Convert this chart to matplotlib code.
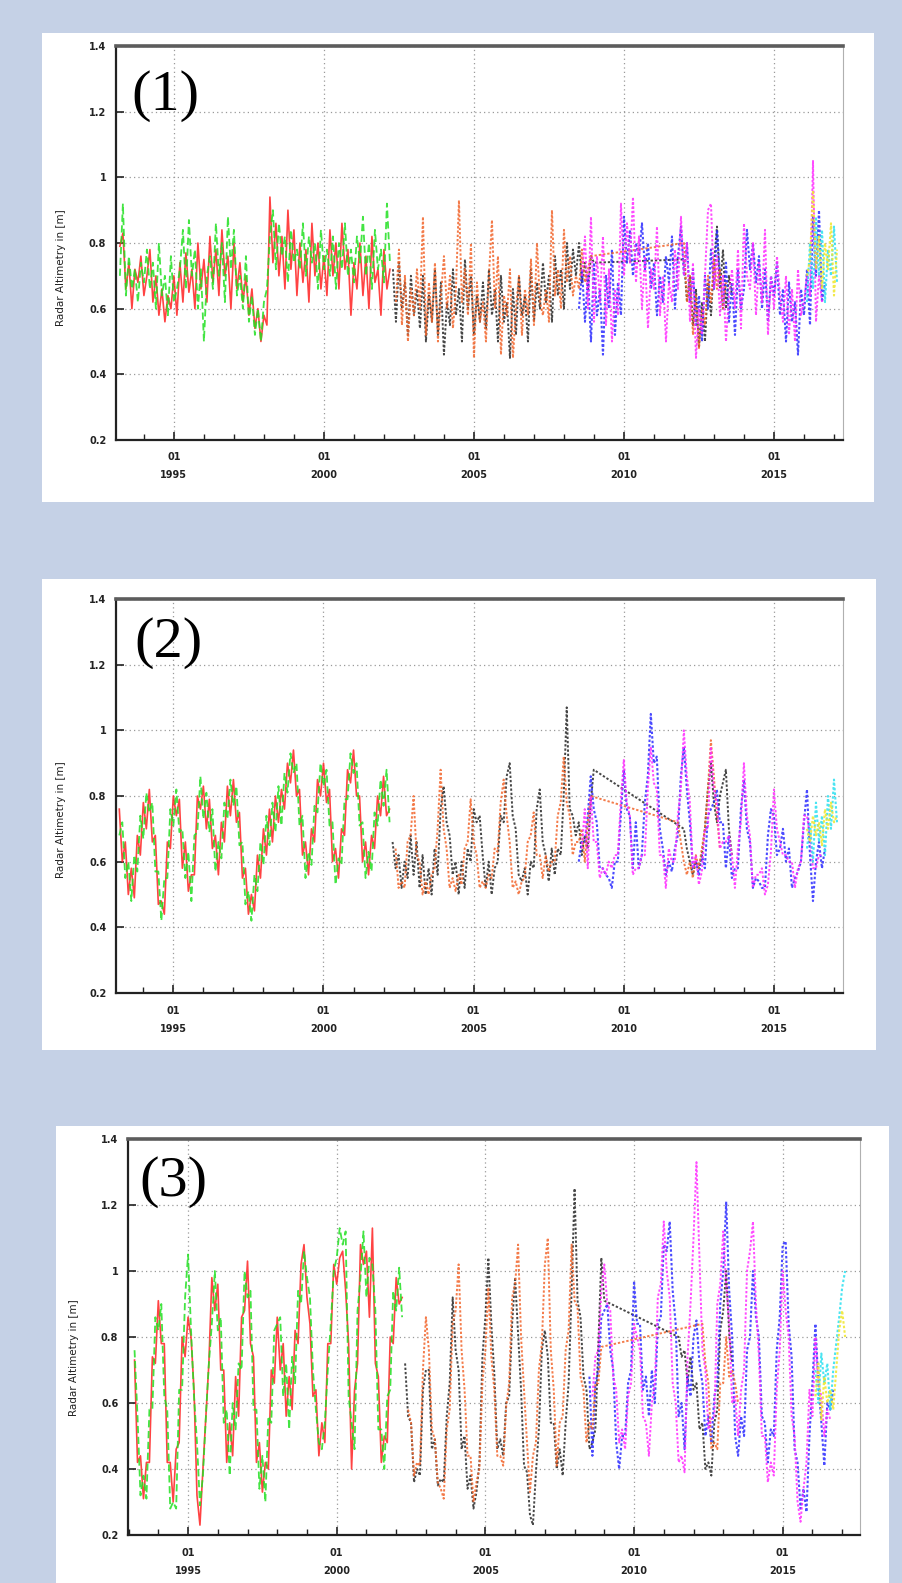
import numpy as np
import matplotlib
matplotlib.use("Agg")
import matplotlib.pyplot as plt
from matplotlib.patches import Rectangle
from matplotlib.ticker import FixedLocator, MultipleLocator

# ---------------------------------------------------------------------------
# Radar altimetry water-level series (metres), sampled every 0.1 year.
# Each mission series: start year + list of values.
# ---------------------------------------------------------------------------
STEP = 0.1

year_ticks = [1995, 2000, 2005, 2010, 2015]
year_labels = ["01\n1995", "01\n2000", "01\n2005", "01\n2010", "01\n2015"]
level_ticks = [0.2, 0.4, 0.6, 0.8, 1.0, 1.2, 1.4]
level_labels = ["0.2", "0.4", "0.6", "0.8", "1", "1.2", "1.4"]
panel_names = ["(1)", "(2)", "(3)"]

# series start years
red_start = 1993.2
green_start = 1993.2
black_a_start = 2002.3
orange_a_start = 2002.4
blue_start = 2008.5
magenta_start = 2008.6
cyan_start = 2016.1
yellow_start = 2016.1
black_b_starts = [2012.0, 2012.0, 2011.5]
orange_b_starts = [2012.0, 2011.8, 2012.3]

# ----------------------------- station 1 -----------------------------------
p1_red = [
    0.79, 0.83, 0.66, 0.74, 0.60, 0.72, 0.68, 0.76, 0.64, 0.70,
    0.78, 0.62, 0.70, 0.58, 0.66, 0.56, 0.64, 0.60, 0.70, 0.58,
    0.74, 0.62, 0.77, 0.65, 0.72, 0.60, 0.80, 0.66, 0.75, 0.62,
    0.82, 0.68, 0.78, 0.64, 0.84, 0.70, 0.76, 0.60, 0.80, 0.66,
    0.74, 0.62, 0.70, 0.58, 0.66, 0.54, 0.60, 0.50, 0.58, 0.55,
    0.94, 0.74, 0.86, 0.70, 0.82, 0.66, 0.90, 0.72, 0.84, 0.64,
    0.80, 0.68, 0.78, 0.62, 0.86, 0.70, 0.80, 0.66, 0.76, 0.64,
    0.84, 0.70, 0.80, 0.66, 0.86, 0.72, 0.78, 0.58, 0.74, 0.66,
    0.80, 0.64, 0.76, 0.60, 0.82, 0.68, 0.72, 0.58, 0.78, 0.66,
    0.72]
p1_green = [
    0.70, 0.92, 0.64, 0.76, 0.66, 0.72, 0.62, 0.74, 0.68, 0.78,
    0.66, 0.74, 0.60, 0.80, 0.64, 0.70, 0.58, 0.76, 0.62, 0.66,
    0.72, 0.84, 0.66, 0.87, 0.70, 0.78, 0.60, 0.72, 0.50, 0.70,
    0.76, 0.66, 0.86, 0.70, 0.80, 0.62, 0.88, 0.72, 0.84, 0.64,
    0.70, 0.60, 0.76, 0.56, 0.64, 0.52, 0.60, 0.50, 0.62, 0.66,
    0.82, 0.90, 0.72, 0.86, 0.76, 0.82, 0.68, 0.84, 0.74, 0.78,
    0.72, 0.86, 0.70, 0.82, 0.74, 0.80, 0.66, 0.84, 0.72, 0.78,
    0.70, 0.82, 0.66, 0.80, 0.72, 0.86, 0.70, 0.78, 0.68, 0.82,
    0.74, 0.88, 0.70, 0.80, 0.66, 0.84, 0.72, 0.78, 0.68, 0.92,
    0.74]
p1_black_a = [
    0.72, 0.56, 0.74, 0.60, 0.68, 0.52, 0.70, 0.58, 0.66, 0.54,
    0.70, 0.50, 0.64, 0.56, 0.72, 0.52, 0.68, 0.46, 0.62, 0.55,
    0.72, 0.58, 0.66, 0.50, 0.75, 0.60, 0.70, 0.52, 0.64, 0.56,
    0.68, 0.54, 0.72, 0.58, 0.66, 0.50, 0.70, 0.56, 0.62, 0.45,
    0.66, 0.52, 0.70, 0.58, 0.64, 0.50, 0.72, 0.56, 0.68, 0.60,
    0.74, 0.62, 0.70, 0.56, 0.76, 0.64, 0.72, 0.60, 0.80, 0.66,
    0.78, 0.70, 0.80, 0.68, 0.74, 0.66, 0.76, 0.74]
p1_black_b = [0.75, 0.62, 0.70, 0.55, 0.66, 0.48, 0.62, 0.50, 0.68, 0.58,
              0.74, 0.85, 0.66, 0.78, 0.60, 0.70, 0.64]
p1_orange_a = [
    0.62, 0.78, 0.55, 0.70, 0.50, 0.66, 0.58, 0.72, 0.60, 0.88,
    0.52, 0.68, 0.56, 0.74, 0.50, 0.64, 0.76, 0.60, 0.70, 0.54,
    0.66, 0.93, 0.62, 0.72, 0.58, 0.80, 0.45, 0.68, 0.56, 0.62,
    0.50, 0.70, 0.87, 0.60, 0.76, 0.46, 0.64, 0.58, 0.72, 0.45,
    0.60, 0.70, 0.52, 0.66, 0.58, 0.75, 0.55, 0.80, 0.62, 0.58,
    0.66, 0.56, 0.90, 0.64, 0.72, 0.60, 0.84, 0.68, 0.76, 0.64,
    0.70, 0.66, 0.78, 0.68, 0.72, 0.76]
p1_orange_b = [0.80, 0.62, 0.70, 0.52, 0.64, 0.48, 0.60, 0.55, 0.70, 0.62,
               0.75, 0.66, 0.72, 0.60, 0.68]
p1_blue = [
    0.60, 0.72, 0.56, 0.70, 0.50, 0.74, 0.58, 0.66, 0.46, 0.70,
    0.60, 0.78, 0.52, 0.68, 0.58, 0.88, 0.74, 0.84, 0.70, 0.80,
    0.76, 0.86, 0.72, 0.80, 0.66, 0.74, 0.58, 0.70, 0.62, 0.76,
    0.68, 0.82, 0.60, 0.76, 0.85, 0.70, 0.80, 0.62, 0.72, 0.55,
    0.64, 0.50, 0.70, 0.60, 0.78, 0.66, 0.84, 0.70, 0.60, 0.74,
    0.56, 0.68, 0.52, 0.72, 0.60, 0.66, 0.84, 0.72, 0.80, 0.68,
    0.76, 0.60, 0.72, 0.56, 0.70, 0.64, 0.74, 0.58, 0.66, 0.50,
    0.68, 0.56, 0.62, 0.46, 0.66, 0.58, 0.72, 0.55, 0.88, 0.70,
    0.90, 0.62, 0.68]
p1_magenta = [
    0.70, 0.82, 0.60, 0.88, 0.56, 0.76, 0.62, 0.82, 0.55, 0.72,
    0.50, 0.66, 0.58, 0.92, 0.70, 0.86, 0.74, 0.94, 0.68, 0.82,
    0.60, 0.76, 0.54, 0.72, 0.66, 0.85, 0.58, 0.70, 0.50, 0.68,
    0.62, 0.78, 0.66, 0.88, 0.70, 0.80, 0.56, 0.74, 0.45, 0.60,
    0.52, 0.70, 0.90, 0.92, 0.66, 0.76, 0.58, 0.70, 0.50, 0.64,
    0.72, 0.60, 0.78, 0.54, 0.86, 0.70, 0.66, 0.80, 0.58, 0.74,
    0.62, 0.84, 0.52, 0.70, 0.60, 0.76, 0.64, 0.56, 0.70, 0.52,
    0.66, 0.50, 0.72, 0.58, 0.62, 0.70, 0.64, 1.05, 0.56, 0.70,
    0.62]
p1_cyan = [0.62, 0.80, 0.66, 0.88, 0.70, 0.84, 0.62, 0.78, 0.70, 0.85, 0.68]
p1_yellow = [0.70, 0.75, 0.96, 0.72, 0.82, 0.66, 0.80, 0.72, 0.86, 0.64, 0.78]

# ----------------------------- station 2 -----------------------------------
p2_red = [
    0.76, 0.60, 0.66, 0.50, 0.58, 0.49, 0.68, 0.62, 0.78, 0.70,
    0.82, 0.66, 0.68, 0.47, 0.48, 0.44, 0.66, 0.64, 0.80, 0.74,
    0.79, 0.58, 0.66, 0.51, 0.56, 0.56, 0.80, 0.76, 0.83, 0.70,
    0.79, 0.64, 0.68, 0.56, 0.72, 0.66, 0.83, 0.74, 0.85, 0.72,
    0.75, 0.55, 0.58, 0.44, 0.50, 0.45, 0.62, 0.55, 0.70, 0.62,
    0.76, 0.66, 0.80, 0.72, 0.82, 0.76, 0.90, 0.84, 0.94, 0.80,
    0.82, 0.62, 0.66, 0.56, 0.70, 0.66, 0.85, 0.80, 0.90, 0.78,
    0.82, 0.60, 0.64, 0.55, 0.70, 0.68, 0.88, 0.84, 0.94, 0.80,
    0.80, 0.60, 0.66, 0.56, 0.68, 0.64, 0.80, 0.74, 0.86, 0.74,
    0.76]
p2_green = [
    0.68, 0.72, 0.55, 0.60, 0.48, 0.62, 0.57, 0.74, 0.67, 0.81,
    0.75, 0.78, 0.57, 0.57, 0.42, 0.55, 0.55, 0.76, 0.71, 0.82,
    0.69, 0.70, 0.55, 0.63, 0.48, 0.68, 0.69, 0.86, 0.73, 0.81,
    0.69, 0.76, 0.57, 0.66, 0.61, 0.78, 0.73, 0.85, 0.77, 0.83,
    0.65, 0.66, 0.47, 0.51, 0.42, 0.56, 0.51, 0.66, 0.59, 0.74,
    0.65, 0.78, 0.69, 0.83, 0.71, 0.87, 0.81, 0.93, 0.87, 0.90,
    0.71, 0.74, 0.55, 0.63, 0.59, 0.77, 0.75, 0.90, 0.83, 0.88,
    0.71, 0.72, 0.53, 0.61, 0.59, 0.79, 0.79, 0.93, 0.87, 0.90,
    0.71, 0.72, 0.55, 0.63, 0.57, 0.75, 0.71, 0.85, 0.77, 0.88,
    0.72]
p2_black_a = [
    0.66, 0.58, 0.62, 0.52, 0.60, 0.55, 0.68, 0.56, 0.66, 0.52,
    0.62, 0.50, 0.58, 0.50, 0.64, 0.56, 0.76, 0.83, 0.72, 0.68,
    0.56, 0.60, 0.50, 0.60, 0.52, 0.64, 0.60, 0.76, 0.72, 0.74,
    0.62, 0.52, 0.60, 0.50, 0.58, 0.60, 0.74, 0.72, 0.86, 0.90,
    0.74, 0.70, 0.56, 0.54, 0.58, 0.50, 0.60, 0.58, 0.76, 0.82,
    0.66, 0.62, 0.54, 0.64, 0.56, 0.64, 0.62, 0.80, 1.07, 0.76,
    0.74, 0.68, 0.72, 0.62, 0.68, 0.64, 0.78, 0.88]
p2_black_b = [0.70, 0.64, 0.60, 0.56, 0.60, 0.58, 0.62, 0.70, 0.82, 0.90,
              0.78, 0.72, 0.80, 0.84, 0.88, 0.70, 0.62]
p2_orange_a = [
    0.64, 0.52, 0.54, 0.52, 0.66, 0.68, 0.80, 0.62, 0.60, 0.50,
    0.54, 0.50, 0.56, 0.58, 0.70, 0.88, 0.70, 0.64, 0.52, 0.55,
    0.51, 0.56, 0.53, 0.64, 0.66, 0.79, 0.66, 0.62, 0.52, 0.54,
    0.52, 0.56, 0.55, 0.64, 0.63, 0.78, 0.85, 0.74, 0.66, 0.52,
    0.54, 0.50, 0.54, 0.55, 0.66, 0.68, 0.75, 0.62, 0.62, 0.55,
    0.62, 0.57, 0.60, 0.60, 0.74, 0.78, 0.92, 0.78, 0.74, 0.62,
    0.66, 0.66, 0.70, 0.60, 0.72, 0.80]
p2_orange_b = [0.72, 0.66, 0.60, 0.56, 0.60, 0.55, 0.62, 0.58, 0.64, 0.70,
               0.82, 0.97, 0.86, 0.74, 0.64]
p2_blue = [
    0.60, 0.66, 0.66, 0.74, 0.86, 0.76, 0.72, 0.58, 0.58, 0.56,
    0.55, 0.52, 0.60, 0.60, 0.74, 0.88, 0.76, 0.74, 0.58, 0.72,
    0.58, 0.62, 0.78, 0.86, 1.05, 0.90, 0.92, 0.70, 0.64, 0.56,
    0.60, 0.57, 0.64, 0.68, 0.86, 0.95, 0.82, 0.72, 0.58, 0.60,
    0.56, 0.62, 0.58, 0.74, 0.76, 0.78, 0.82, 0.72, 0.72, 0.58,
    0.68, 0.55, 0.58, 0.58, 0.76, 0.85, 0.70, 0.66, 0.52, 0.55,
    0.54, 0.52, 0.52, 0.68, 0.76, 0.74, 0.62, 0.64, 0.70, 0.60,
    0.64, 0.52, 0.55, 0.57, 0.60, 0.72, 0.82, 0.62, 0.48, 0.60,
    0.66, 0.58, 0.64]
p2_magenta = [
    0.64, 0.76, 0.58, 0.80, 0.66, 0.66, 0.55, 0.58, 0.56, 0.60,
    0.58, 0.62, 0.62, 0.78, 0.91, 0.78, 0.74, 0.56, 0.58, 0.58,
    0.62, 0.62, 0.82, 0.95, 0.84, 0.82, 0.62, 0.62, 0.52, 0.64,
    0.60, 0.60, 0.74, 0.82, 1.00, 0.86, 0.78, 0.58, 0.62, 0.53,
    0.57, 0.70, 0.70, 0.95, 0.82, 0.78, 0.64, 0.66, 0.66, 0.68,
    0.62, 0.52, 0.64, 0.72, 0.90, 0.74, 0.68, 0.52, 0.56, 0.56,
    0.58, 0.50, 0.53, 0.63, 0.82, 0.70, 0.66, 0.62, 0.62, 0.60,
    0.60, 0.52, 0.58, 0.60, 0.74, 0.74, 0.68, 0.58, 0.58, 0.62,
    0.62]
p2_cyan = [0.64, 0.72, 0.60, 0.78, 0.66, 0.74, 0.62, 0.80, 0.70, 0.85, 0.72]
p2_yellow = [0.70, 0.66, 0.74, 0.68, 0.72, 0.65, 0.76, 0.70, 0.78, 0.72, 0.74]

# ----------------------------- station 3 -----------------------------------
p3_red = [
    0.73, 0.42, 0.44, 0.31, 0.42, 0.42, 0.74, 0.72, 0.91, 0.78,
    0.78, 0.42, 0.42, 0.30, 0.46, 0.48, 0.80, 0.74, 0.86, 0.80,
    0.64, 0.32, 0.23, 0.40, 0.56, 0.72, 0.98, 0.88, 0.96, 0.70,
    0.70, 0.42, 0.54, 0.44, 0.68, 0.56, 0.86, 0.88, 1.03, 0.78,
    0.74, 0.42, 0.48, 0.33, 0.42, 0.40, 0.70, 0.66, 0.86, 0.70,
    0.78, 0.56, 0.68, 0.58, 0.82, 0.78, 1.02, 1.08, 0.92, 0.84,
    0.62, 0.64, 0.44, 0.54, 0.48, 0.78, 0.78, 1.02, 0.96, 1.04,
    1.06, 0.94, 0.78, 0.40, 0.64, 0.72, 1.08, 1.02, 1.06, 0.86,
    1.13, 0.72, 0.68, 0.42, 0.50, 0.48, 0.80, 0.78, 0.98, 0.90,
    0.92]
p3_green = [
    0.76, 0.56, 0.32, 0.38, 0.31, 0.58, 0.58, 0.86, 0.82, 0.90,
    0.62, 0.58, 0.28, 0.30, 0.28, 0.64, 0.64, 0.92, 1.05, 0.82,
    0.62, 0.48, 0.29, 0.38, 0.56, 0.72, 0.84, 1.00, 0.82, 0.86,
    0.54, 0.58, 0.38, 0.60, 0.52, 0.72, 0.70, 1.00, 0.92, 0.94,
    0.58, 0.58, 0.34, 0.44, 0.30, 0.56, 0.54, 0.82, 0.84, 0.86,
    0.62, 0.72, 0.52, 0.74, 0.66, 0.94, 0.90, 1.06, 0.98, 0.92,
    0.70, 0.58, 0.48, 0.46, 0.54, 0.70, 0.84, 1.00, 1.04, 1.13,
    1.08, 1.12, 0.62, 0.54, 0.46, 0.88, 0.98, 1.12, 0.92, 1.04,
    1.02, 0.88, 0.52, 0.52, 0.40, 0.62, 0.64, 0.94, 0.88, 1.01,
    0.86]
p3_black_a = [
    0.72, 0.56, 0.54, 0.36, 0.40, 0.38, 0.64, 0.70, 0.70, 0.46,
    0.49, 0.35, 0.37, 0.36, 0.56, 0.66, 0.92, 0.76, 0.70, 0.46,
    0.50, 0.34, 0.38, 0.28, 0.33, 0.42, 0.74, 0.86, 1.04, 0.84,
    0.69, 0.46, 0.49, 0.44, 0.60, 0.62, 0.84, 0.98, 0.81, 0.64,
    0.41, 0.39, 0.26, 0.23, 0.39, 0.52, 0.76, 0.82, 0.74, 0.54,
    0.54, 0.40, 0.46, 0.38, 0.54, 0.66, 0.94, 1.25, 0.91, 0.86,
    0.68, 0.64, 0.46, 0.48, 0.52, 0.78, 1.04, 0.91]
p3_black_b = [0.80, 0.74, 0.76, 0.66, 0.74, 0.64, 0.66, 0.52, 0.54, 0.40,
              0.42, 0.38, 0.54, 0.58, 0.82, 0.88, 1.00, 0.81, 0.72]
p3_orange_a = [
    0.58, 0.54, 0.38, 0.42, 0.41, 0.70, 0.86, 0.76, 0.52, 0.49,
    0.36, 0.34, 0.31, 0.52, 0.58, 0.84, 0.88, 1.02, 0.76, 0.64,
    0.44, 0.44, 0.30, 0.36, 0.40, 0.66, 0.76, 0.95, 0.74, 0.64,
    0.44, 0.44, 0.41, 0.59, 0.66, 0.92, 0.96, 1.08, 0.80, 0.64,
    0.48, 0.33, 0.44, 0.48, 0.70, 0.78, 1.02, 1.10, 0.76, 0.64,
    0.41, 0.54, 0.56, 0.76, 0.82, 1.08, 0.91, 0.89, 0.68, 0.64,
    0.48, 0.54, 0.52, 0.66, 0.66, 0.77]
p3_orange_b = [0.84, 0.72, 0.66, 0.46, 0.48, 0.46, 0.66, 0.66, 0.80, 0.68,
               0.70, 0.66, 0.60]
p3_blue = [
    0.68, 0.44, 0.66, 0.70, 0.86, 0.88, 0.90, 0.76, 0.70, 0.48,
    0.40, 0.50, 0.50, 0.66, 0.70, 0.97, 0.84, 0.84, 0.64, 0.68,
    0.56, 0.70, 0.60, 0.84, 0.86, 1.08, 1.06, 1.15, 0.94, 0.84,
    0.56, 0.60, 0.46, 0.68, 0.62, 0.80, 0.85, 0.72, 0.66, 0.50,
    0.56, 0.48, 0.62, 0.66, 0.90, 1.00, 1.21, 0.94, 0.80, 0.50,
    0.44, 0.56, 0.50, 0.76, 0.80, 1.00, 0.86, 0.80, 0.56, 0.54,
    0.42, 0.52, 0.50, 0.76, 0.86, 1.08, 1.09, 0.84, 0.74, 0.46,
    0.42, 0.28, 0.34, 0.27, 0.50, 0.66, 0.84, 0.66, 0.54, 0.41,
    0.60, 0.58, 0.64]
p3_magenta = [
    0.62, 0.74, 0.76, 0.94, 1.02, 0.90, 0.88, 0.68, 0.64, 0.48,
    0.52, 0.46, 0.62, 0.66, 0.84, 0.80, 0.76, 0.56, 0.54, 0.44,
    0.60, 0.66, 0.92, 0.96, 1.15, 1.00, 0.92, 0.66, 0.60, 0.42,
    0.44, 0.39, 0.74, 0.90, 1.10, 1.33, 1.04, 0.76, 0.70, 0.52,
    0.55, 0.56, 0.90, 0.96, 1.12, 0.96, 0.84, 0.60, 0.62, 0.50,
    0.64, 0.70, 1.00, 1.06, 1.15, 0.90, 0.74, 0.50, 0.50, 0.36,
    0.42, 0.38, 0.64, 0.76, 1.00, 0.88, 0.80, 0.56, 0.50, 0.30,
    0.24, 0.34, 0.42, 0.64, 0.56, 0.80, 0.66, 0.62, 0.50, 0.58,
    0.55]
p3_cyan = [0.70, 0.60, 0.75, 0.66, 0.72, 0.58, 0.70, 0.78, 0.86, 0.95, 1.00]
p3_yellow = [0.62, 0.72, 0.55, 0.68, 0.60, 0.64, 0.58, 0.70, 0.82, 0.88, 0.80]

# ---------------------------------------------------------------------------
# Styling
# ---------------------------------------------------------------------------
W, H = 903, 1583
BG = "#c5d1e6"
DOTS = (0, (1.2, 1.0))

styles = {
    "red":     dict(color="#ff2222", ls="-",         lw=1.2, z=3),
    "green":   dict(color="#22e022", ls=(0, (4, 2)), lw=1.3, z=4),
    "black":   dict(color="#262626", ls=DOTS,        lw=1.4, z=3),
    "orange":  dict(color="#f2642a", ls=DOTS,        lw=1.4, z=4),
    "blue":    dict(color="#2a2aff", ls=DOTS,        lw=1.5, z=3),
    "magenta": dict(color="#ff2aff", ls=DOTS,        lw=1.4, z=4),
    "cyan":    dict(color="#2ae0f0", ls=DOTS,        lw=1.5, z=5),
    "yellow":  dict(color="#f0e62a", ls=DOTS,        lw=1.5, z=5),
}

stations = [
    dict(red=p1_red, green=p1_green, black=(p1_black_a, p1_black_b),
         orange=(p1_orange_a, p1_orange_b), blue=p1_blue, magenta=p1_magenta,
         cyan=p1_cyan, yellow=p1_yellow),
    dict(red=p2_red, green=p2_green, black=(p2_black_a, p2_black_b),
         orange=(p2_orange_a, p2_orange_b), blue=p2_blue, magenta=p2_magenta,
         cyan=p2_cyan, yellow=p2_yellow),
    dict(red=p3_red, green=p3_green, black=(p3_black_a, p3_black_b),
         orange=(p3_orange_a, p3_orange_b), blue=p3_blue, magenta=p3_magenta,
         cyan=p3_cyan, yellow=p3_yellow),
]

# pixel layout of the three framed panels: white box, axes box, time range
layout = [
    dict(box=(42, 33, 874, 502), ax=(116, 46, 843, 440), xlim=(1993.07, 2017.3),
         label_xy=(131, 96), ylab_xy=(61, 268)),
    dict(box=(42, 579, 876, 1050), ax=(116, 599, 843, 993), xlim=(1993.09, 2017.3),
         label_xy=(134, 643), ylab_xy=(61, 820)),
    dict(box=(56, 1126, 889, 1583), ax=(128, 1139, 860, 1535), xlim=(1992.98, 2017.6),
         label_xy=(139, 1182), ylab_xy=(74, 1358)),
]


def times(start, values):
    return start + STEP * np.arange(len(values))


def draw(ax, name, t, values):
    st = styles[name]
    ax.plot(t, values, color=st["color"], ls=st["ls"], lw=st["lw"],
            zorder=st["z"], alpha=0.85)


fig = plt.figure(figsize=(W / 100, H / 100), dpi=100, facecolor=BG)

for i, (data, lay) in enumerate(zip(stations, layout)):
    x0, y0, x1, y1 = lay["box"]
    fig.add_artist(Rectangle((x0 / W, 1 - y1 / H), (x1 - x0) / W, (y1 - y0) / H,
                             transform=fig.transFigure, facecolor="white",
                             edgecolor="none", zorder=-10))
    l, t, r, b = lay["ax"]
    ax = fig.add_axes([l / W, 1 - b / H, (r - l) / W, (b - t) / H])
    ax.set_facecolor("white")

    draw(ax, "red", times(red_start, data["red"]), data["red"])
    draw(ax, "green", times(green_start, data["green"]), data["green"])
    # two-part series: the straight segment bridges the data gap
    ba, bb = data["black"]
    draw(ax, "black",
         np.concatenate([times(black_a_start, ba), times(black_b_starts[i], bb)]),
         list(ba) + list(bb))
    oa, ob = data["orange"]
    draw(ax, "orange",
         np.concatenate([times(orange_a_start, oa), times(orange_b_starts[i], ob)]),
         list(oa) + list(ob))
    draw(ax, "blue", times(blue_start, data["blue"]), data["blue"])
    draw(ax, "magenta", times(magenta_start, data["magenta"]), data["magenta"])
    draw(ax, "cyan", times(cyan_start, data["cyan"]), data["cyan"])
    draw(ax, "yellow", times(yellow_start, data["yellow"]), data["yellow"])

    ax.set_xlim(*lay["xlim"])
    ax.set_ylim(0.2, 1.4)
    ax.xaxis.set_major_locator(FixedLocator(year_ticks))
    ax.set_xticklabels(year_labels)
    ax.xaxis.set_minor_locator(MultipleLocator(1))
    ax.yaxis.set_major_locator(FixedLocator(level_ticks))
    ax.set_yticklabels(level_labels)

    ax.tick_params(axis="both", which="major", direction="in", length=6, width=1.2,
                   colors="#222222", labelsize=7, pad=7)
    ax.tick_params(axis="x", which="minor", direction="in", length=4, width=1.0,
                   colors="#222222")
    ax.tick_params(axis="y", which="minor", length=0)
    ax.tick_params(axis="x", which="major", pad=9)
    for lab in ax.get_xticklabels() + ax.get_yticklabels():
        lab.set_fontweight("bold")
        lab.set_linespacing(2.0)

    ax.grid(True, which="major", color="#9a9a9a", ls=(0, (1, 2.5)), lw=0.9, zorder=1)

    ax.spines["top"].set(lw=2.6, color="#5c5c5c")
    ax.spines["left"].set(lw=1.6, color="#222222")
    ax.spines["bottom"].set(lw=1.6, color="#222222")
    ax.spines["right"].set(lw=0.8, color="#b0b0b0")

    lx, ly = lay["label_xy"]
    fig.text(lx / W, 1 - ly / H, panel_names[i], fontsize=42,
             family="Liberation Serif", ha="left", va="center", zorder=10)
    yx, yy = lay["ylab_xy"]
    fig.text(yx / W, 1 - yy / H, "Radar Altimetry in [m]", rotation=90,
             fontsize=7.5, ha="center", va="center", color="#222222")

fig.savefig("out.png", dpi=100, facecolor=BG)
